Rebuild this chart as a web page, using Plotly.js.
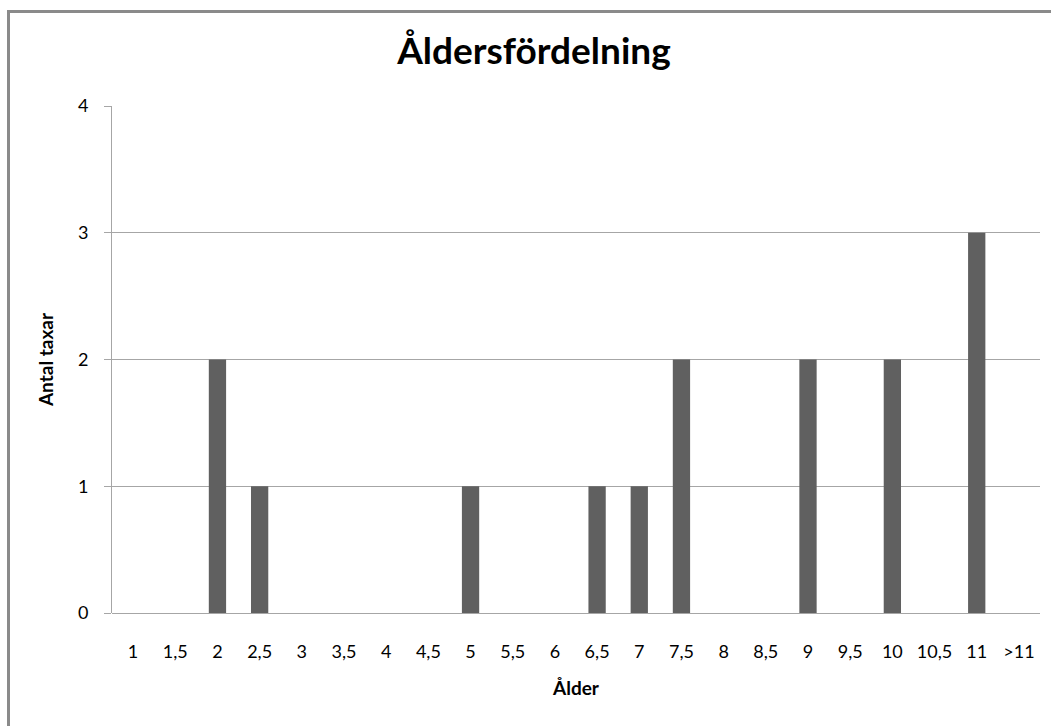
<!DOCTYPE html>
<html>
<head>
<meta charset="utf-8">
<script src="https://cdn.plot.ly/plotly-3.0.1.min.js"></script>
<style>
  html, body { margin: 0; padding: 0; background: #fff; }
  #wrap { position: relative; width: 1051px; height: 726px; }
  #chart { position: absolute; left: 0; top: 0; width: 1051px; height: 726px; }
  #frame { position: absolute; left: 7px; top: 10px; right: -10px; bottom: -10px;
           border-top: 3px solid #8a8a8a; border-left: 3px solid #8a8a8a; pointer-events: none; }
</style>
</head>
<body>
<div id="wrap">
  <div id="chart"></div>
  <div id="frame"></div>
</div>
<script>
const categories = ["1","1,5","2","2,5","3","3,5","4","4,5","5","5,5","6","6,5","7","7,5","8","8,5","9","9,5","10","10,5","11",">11"];
const counts = [0,0,2,1,0,0,0,0,1,0,0,1,1,2,0,0,2,0,2,0,3,0];
const yTicks = [0,1,2,3,4];

const font = "Lato, 'Noto Sans', sans-serif";

const data = [{
  type: "bar",
  x: categories,
  y: counts,
  marker: { color: "#606060", line: { width: 0 } },
  hoverinfo: "x+y"
}];

const layout = {
  width: 1051, height: 726,
  margin: { l: 112, r: 11, t: 106, b: 113 },
  paper_bgcolor: "#ffffff",
  plot_bgcolor: "#ffffff",
  showlegend: false,
  bargap: 0.59,
  font: { family: font, color: "#000", size: 18 },
  title: {
    text: "<b>Åldersfördelning</b>",
    font: { family: font, size: 37, color: "#000" },
    x: 0.508, xanchor: "center", y: 0.929, yanchor: "middle"
  },
  xaxis: {
    type: "category",
    tickvals: categories,
    ticktext: categories,
    showgrid: false,
    showline: false,
    zeroline: false,
    ticks: "",
    ticklabelstandoff: 26,
    tickfont: { family: font, size: 18, color: "#000" },
    title: { text: "<b>Ålder</b>", font: { family: font, size: 19, color: "#000" }, standoff: 20 },
    fixedrange: true
  },
  yaxis: {
    range: [0, 4],
    tickvals: yTicks,
    ticktext: yTicks.map(String),
    showgrid: true,
    gridcolor: "#a6a6a6",
    gridwidth: 1,
    showline: true,
    linecolor: "#a6a6a6",
    linewidth: 1,
    zeroline: true,
    zerolinecolor: "#a6a6a6",
    zerolinewidth: 1,
    ticks: "outside",
    ticklen: 7,
    tickcolor: "#a6a6a6",
    ticklabelstandoff: 12,
    tickfont: { family: font, size: 18, color: "#000" },
    title: { text: "<b>Antal taxar</b>", font: { family: font, size: 19, color: "#000" }, standoff: 19 },
    fixedrange: true
  }
};

Plotly.newPlot("chart", data, layout, { displayModeBar: false, staticPlot: true });
</script>
</body>
</html>
